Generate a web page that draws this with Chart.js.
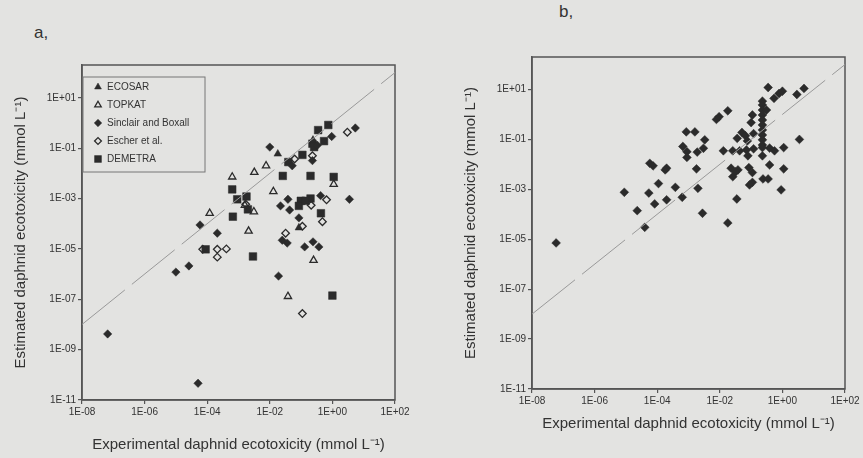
<!DOCTYPE html>
<html>
<head>
<meta charset="utf-8">
<script src="https://cdn.jsdelivr.net/npm/chart.js@4.4.1/dist/chart.umd.min.js"></script>
<style>
  body { margin: 0; background: #e3e3e1; width: 863px; height: 458px; overflow: hidden; position: relative; font-family: "Liberation Sans", Arial, sans-serif; }
  .panel { position: absolute; top: 0; height: 458px; }
  #wrapA { left: 0; width: 430px; }
  #wrapB { left: 430px; width: 433px; }
  .tag { position: absolute; font-size: 17px; color: #333; }
</style>
</head>
<body>
<div class="tag" style="left:34px; top:23px;">a,</div>
<div class="tag" style="left:559px; top:2px;">b,</div>
<div class="panel" id="wrapA"><canvas id="chartA" width="430" height="458"></canvas></div>
<div class="panel" id="wrapB"><canvas id="chartB" width="433" height="458"></canvas></div>
<script>
// tick values (log axes)
const xTicks = [1e-8, 1e-6, 1e-4, 1e-2, 1, 100];
const yTicks = [1e-11, 1e-9, 1e-7, 1e-5, 1e-3, 1e-1, 10];
const diagonal = [[1e-8, 1e-8], [100, 100]];

const xTitle = 'Experimental daphnid ecotoxicity (mmol L\u207B\u00B9)';
const yTitle = 'Estimated daphnid ecotoxicity (mmol L\u207B\u00B9)';

// panel a : [experimental, estimated]
const ecosar = [[1.8e-2, 5.9e-2], [2.4e-1, 2.1e-1], [8.5e-2, 6.9e-5]];
const topkat = [
  [1.2e-4, 2.6e-4], [6.3e-4, 7.2e-3], [3.2e-3, 1.1e-2], [7.6e-3, 2.0e-2], [2.1e-3, 5.1e-5],
  [1.3e-2, 1.9e-3], [3.1e-3, 3.0e-4], [1.6e-3, 5.4e-4], [2.5e-1, 3.5e-6], [1.1, 3.7e-3],
  [3.8e-2, 1.3e-7]
];
const sinclair = [
  [6.6e-8, 4.2e-9], [5.1e-5, 4.6e-11], [1.0e-5, 1.2e-6], [2.6e-5, 2.1e-6], [5.9e-5, 8.9e-5],
  [2.1e-4, 4.2e-5], [1.0e-2, 1.1e-1], [1.9e-2, 8.3e-7], [2.2e-2, 5.1e-4], [3.8e-2, 9.3e-4],
  [4.3e-2, 3.5e-4], [8.5e-2, 1.7e-4], [2.5e-2, 2.2e-5], [3.6e-2, 1.7e-5], [1.3e-1, 1.2e-5],
  [2.4e-1, 1.9e-5], [3.7e-1, 1.2e-5], [4.2e-1, 1.3e-3], [3.5, 9.3e-4], [9.5e-1, 2.9e-1],
  [5.4, 6.3e-1], [5.2e-2, 2.0e-2], [2.3e-1, 3.2e-2], [3.3e-1, 1.3e-1]
];
const escher = [
  [7.2e-5, 9.6e-6], [2.1e-4, 9.6e-6], [4.1e-4, 1.0e-5], [2.1e-4, 4.7e-6], [3.0, 4.3e-1],
  [6.2e-2, 3.7e-2], [2.3e-1, 5.0e-2], [2.1e-1, 5.4e-4], [6.5e-1, 8.9e-4], [4.8e-1, 1.2e-4],
  [3.2e-2, 4.2e-5], [1.1e-1, 7.9e-5], [1.1e-1, 2.7e-8], [1.7e-3, 5.9e-4]
];
const demetra = [
  [8.9e-5, 9.6e-6], [2.9e-3, 5.0e-6], [6.3e-4, 2.3e-3], [9.1e-4, 9.3e-4], [1.8e-3, 1.2e-3],
  [2.0e-3, 3.7e-4], [6.6e-4, 1.9e-4], [2.6e-2, 7.9e-3], [1.1e-1, 5.4e-2], [2.0e-1, 7.9e-3],
  [3.5e-1, 5.2e-1], [7.4e-1, 8.3e-1], [5.4e-1, 1.9e-1], [2.3e-1, 1.5e-1], [9.8e-2, 8.1e-4],
  [2.0e-1, 1.0e-3], [8.5e-2, 5.1e-4], [4.3e-1, 2.6e-4], [1.0, 1.4e-7], [1.1, 7.2e-3],
  [3.9e-2, 2.8e-2], [2.6e-1, 1.1e-1], [1.4e-1, 8.1e-4]
];

// panel b : [experimental, estimated]
const combined = [
  [5.9e-8, 7.1e-6], [8.9e-6, 7.6e-4], [2.3e-5, 1.4e-4], [4.0e-5, 3.0e-5], [5.4e-5, 7.1e-4],
  [8.3e-5, 2.6e-4], [1.1e-4, 1.7e-3], [5.8e-5, 1.1e-2], [7.4e-5, 8.7e-3], [2.0e-4, 7.0e-3],
  [1.8e-4, 6.0e-3], [2.0e-4, 3.8e-4], [3.8e-4, 1.2e-3], [6.3e-4, 4.8e-4], [6.6e-4, 5.2e-2],
  [8.9e-4, 3.2e-2], [8.9e-4, 1.9e-2], [8.5e-4, 2.0e-1], [1.6e-3, 2.0e-1], [1.9e-3, 3.1e-2],
  [3.0e-3, 4.4e-2], [3.3e-3, 9.6e-2], [1.8e-3, 6.6e-3], [2.0e-3, 1.1e-3], [2.8e-3, 1.1e-4],
  [7.8e-3, 6.3e-1], [9.5e-3, 8.1e-1], [1.8e-2, 1.4], [1.3e-2, 3.5e-2], [2.6e-2, 3.5e-2],
  [4.3e-2, 3.5e-2], [2.3e-2, 7.0e-3], [3.8e-2, 6.0e-3], [2.6e-2, 3.2e-3], [3.2e-2, 5.0e-3],
  [3.5e-2, 4.1e-4], [1.8e-2, 4.5e-5], [3.6e-2, 1.1e-1], [5.1e-2, 1.9e-1], [6.6e-2, 1.4e-1],
  [7.6e-2, 8.7e-2], [1.1e-1, 9.5e-1], [1.0e-1, 4.7e-1], [1.2e-1, 1.7e-1], [7.1e-2, 3.8e-2],
  [1.2e-1, 4.2e-2], [7.9e-2, 2.2e-2], [8.5e-2, 7.4e-3], [1.1e-1, 4.7e-3], [1.1e-1, 1.9e-3],
  [8.9e-2, 1.5e-3], [2.3e-1, 3.4], [2.3e-1, 2.4], [2.3e-1, 1.5], [2.3e-1, 9.5e-1],
  [2.3e-1, 6.0e-1], [2.3e-1, 3.8e-1], [2.3e-1, 2.4e-1], [2.3e-1, 1.5e-1], [2.3e-1, 9.6e-2],
  [2.3e-1, 6.0e-2], [2.3e-1, 4.7e-2], [2.3e-1, 2.2e-2], [3.1e-1, 1.5], [3.5e-1, 12],
  [5.4e-1, 4.4], [7.8e-1, 6.9], [1.0, 8.5], [2.9, 6.3], [4.9, 11],
  [3.5, 1.0e-1], [3.9e-1, 4.5e-2], [5.6e-1, 3.5e-2], [1.1, 4.7e-2], [3.9e-1, 9.5e-3],
  [1.1, 6.6e-3], [2.4e-1, 2.6e-3], [3.5e-1, 2.6e-3], [9.1e-1, 9.5e-4]
];

const ink = '#2b2b2b';
const axisInk = '#555';
const fontFam = '"Liberation Sans", Arial, sans-serif';

function pts(list) {
  return list.map(p => ({ x: p[0], y: p[1] }));
}

function expLabel(v) {
  const e = Math.round(Math.log10(v));
  const s = e < 0 ? '-' : '+';
  return '1E' + s + String(Math.abs(e)).padStart(2, '0');
}

function logAxis(list, min, max, title, size, titlePad, horizontal) {
  return {
    type: 'logarithmic',
    min: min,
    max: max,
    afterBuildTicks: s => { s.ticks = list.map(v => ({ value: v })); },
    afterFit: s => { if (horizontal) s.height = size; else s.width = size; },
    ticks: {
      callback: v => expLabel(v),
      color: '#333',
      font: { family: fontFam, size: 10 },
      padding: 2,
      autoSkip: false,
      maxRotation: 0
    },
    grid: { drawOnChartArea: false, drawTicks: true, tickLength: 4, color: axisInk, lineWidth: 1.2 },
    border: { display: true, color: axisInk, width: 1.5 },
    title: { display: true, text: title, color: '#333', font: { family: fontFam, size: 15 }, padding: titlePad }
  };
}

function markerSet(label, list, style, filled, r) {
  return {
    label: label,
    data: pts(list),
    pointStyle: style,
    pointRadius: r,
    pointHoverRadius: r,
    pointBackgroundColor: filled ? ink : 'rgba(0,0,0,0)',
    pointBorderColor: ink,
    pointBorderWidth: filled ? 0.5 : 1.3,
    showLine: false
  };
}

function diagSet() {
  return {
    label: '',
    data: pts(diagonal),
    showLine: true,
    borderColor: '#999',
    borderWidth: 1,
    borderDash: [55, 9],
    pointRadius: 0,
    fill: false
  };
}

// full box around the plot area
const frame = {
  id: 'frame',
  beforeDatasetsDraw(chart) {
    const a = chart.chartArea, ctx = chart.ctx;
    ctx.save();
    ctx.strokeStyle = axisInk;
    ctx.lineWidth = 1.5;
    ctx.strokeRect(a.left, a.top, a.right - a.left, a.bottom - a.top);
    ctx.restore();
  }
};

// boxed legend inside the plot, top-left
const boxLegend = {
  id: 'boxLegend',
  afterDatasetsDraw(chart) {
    const a = chart.chartArea, ctx = chart.ctx;
    const x0 = a.left + 1, y0 = a.top + 12, w = 122, h = 95;
    ctx.save();
    ctx.fillStyle = '#e3e3e1';
    ctx.fillRect(x0, y0, w, h);
    ctx.strokeStyle = '#777';
    ctx.lineWidth = 1;
    ctx.strokeRect(x0, y0, w, h);
    ctx.font = '10px ' + fontFam;
    ctx.textBaseline = 'middle';
    let row = 0;
    chart.data.datasets.forEach(ds => {
      if (!ds.label) return;
      const cy = y0 + 10 + row * 18;
      ctx.fillStyle = ds.pointBackgroundColor;
      ctx.strokeStyle = ds.pointBorderColor;
      ctx.lineWidth = ds.pointBorderWidth;
      Chart.helpers.drawPoint(ctx, { pointStyle: ds.pointStyle, radius: ds.pointRadius * 0.9, rotation: 0, borderWidth: ds.pointBorderWidth }, x0 + 15, cy);
      ctx.fillStyle = '#333';
      ctx.fillText(ds.label, x0 + 24, cy);
      row++;
    });
    ctx.restore();
  }
};

new Chart(document.getElementById('chartA'), {
  type: 'scatter',
  data: {
    datasets: [
      diagSet(),
      markerSet('ECOSAR', ecosar, 'triangle', true, 4.4),
      markerSet('TOPKAT', topkat, 'triangle', false, 4.2),
      markerSet('Sinclair and Boxall', sinclair, 'rectRot', true, 4.2),
      markerSet('Escher et al.', escher, 'rectRot', false, 3.8),
      markerSet('DEMETRA', demetra, 'rect', true, 5.4)
    ]
  },
  options: {
    responsive: false,
    animation: false,
    layout: { padding: { left: 12, right: 35, top: 65, bottom: 0 } },
    plugins: { legend: { display: false }, tooltip: { enabled: false } },
    scales: {
      x: logAxis(xTicks, 1e-8, 100, xTitle, 58, { top: 0, bottom: 4 }, true),
      y: logAxis(yTicks, 1e-11, 200, yTitle, 70, 0, false)
    }
  },
  plugins: [frame, boxLegend]
});

new Chart(document.getElementById('chartB'), {
  type: 'scatter',
  data: {
    datasets: [
      diagSet(),
      markerSet('', combined, 'rectRot', true, 4.4)
    ]
  },
  options: {
    responsive: false,
    animation: false,
    layout: { padding: { left: 32, right: 18, top: 57, bottom: 24 } },
    plugins: { legend: { display: false }, tooltip: { enabled: false } },
    scales: {
      x: logAxis(xTicks, 1e-8, 100, xTitle, 45, { top: 0, bottom: 1 }, true),
      y: logAxis(yTicks, 1e-11, 200, yTitle, 70, 0, false)
    }
  },
  plugins: [frame]
});
</script>
</body>
</html>
